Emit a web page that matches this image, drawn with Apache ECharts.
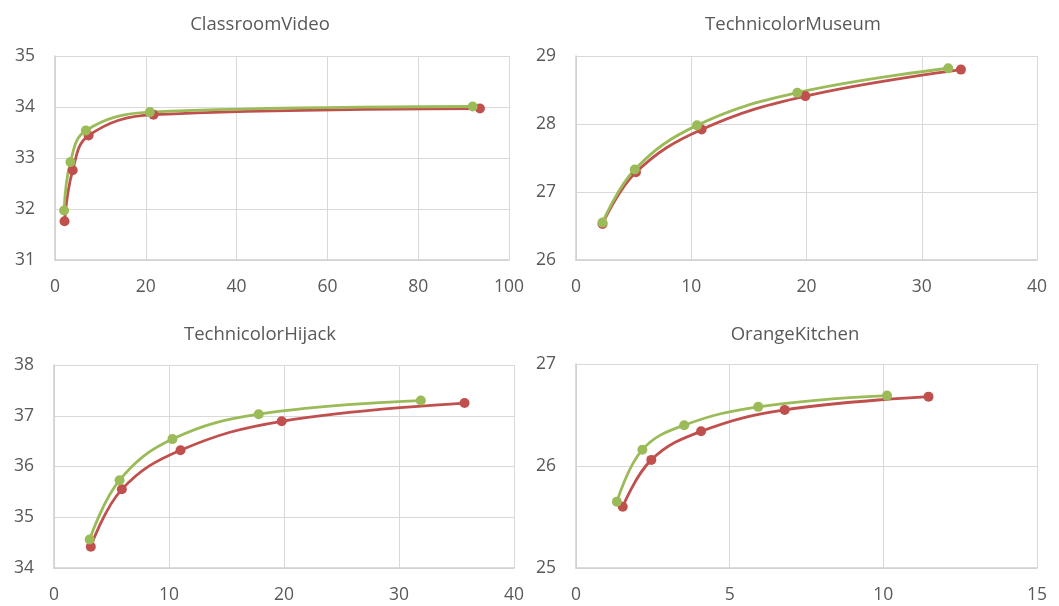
<!DOCTYPE html>
<html>
<head>
<meta charset="utf-8">
<script src="https://cdn.jsdelivr.net/npm/echarts@6/dist/echarts.min.js"></script>
<style>
html,body{margin:0;padding:0;background:#fff;}
#c{width:1059px;height:606px;}
</style>
</head>
<body>
<div id="c"></div>
<script>
// ---- data ----
const titles = ['ClassroomVideo', 'TechnicolorMuseum', 'TechnicolorHijack', 'OrangeKitchen'];

const classroomRedX = [2.1, 3.9, 7.4, 21.7, 93.6];
const classroomRedY = [31.76, 32.76, 33.44, 33.85, 33.97];
const classroomGreenX = [2.0, 3.4, 6.8, 20.9, 92.0];
const classroomGreenY = [31.97, 32.92, 33.54, 33.90, 34.01];

const museumRedX = [2.3, 5.2, 10.9, 19.9, 33.4];
const museumRedY = [26.53, 27.29, 27.92, 28.41, 28.80];
const museumGreenX = [2.3, 5.1, 10.5, 19.2, 32.3];
const museumGreenY = [26.55, 27.33, 27.98, 28.46, 28.82];

const hijackRedX = [3.2, 5.9, 11.0, 19.8, 35.7];
const hijackRedY = [34.42, 35.55, 36.32, 36.89, 37.25];
const hijackGreenX = [3.1, 5.7, 10.3, 17.8, 31.9];
const hijackGreenY = [34.56, 35.73, 36.54, 37.03, 37.30];

const kitchenRedX = [1.52, 2.45, 4.07, 6.79, 11.47];
const kitchenRedY = [25.60, 26.06, 26.34, 26.55, 26.68];
const kitchenGreenX = [1.33, 2.16, 3.52, 5.93, 10.12];
const kitchenGreenY = [25.65, 26.16, 26.40, 26.58, 26.69];

const xMin = [0, 0, 0, 0];
const xMax = [100, 40, 40, 15];
const xInterval = [20, 10, 10, 5];
const yMin = [31, 26, 34, 25];
const yMax = [35, 29, 38, 27];
const yInterval = [1, 1, 1, 1];

const redSets = [[classroomRedX, classroomRedY], [museumRedX, museumRedY], [hijackRedX, hijackRedY], [kitchenRedX, kitchenRedY]];
const greenSets = [[classroomGreenX, classroomGreenY], [museumGreenX, museumGreenY], [hijackGreenX, hijackGreenY], [kitchenGreenX, kitchenGreenY]];

// ---- layout ----
const grids = [
  {left: 55, top: 56, width: 454, height: 204},
  {left: 576, top: 56, width: 461, height: 204},
  {left: 54, top: 365, width: 460, height: 203},
  {left: 576, top: 364, width: 461, height: 204}
];
const titlePos = [[255, 20], [788, 20], [255, 330], [790, 330]];

const RED = '#C0504D', GREEN = '#9BBB59', TXT = '#595959', GRID = '#D9D9D9';
const FONT = 'Open Sans';

function pairs(xs, ys) { return xs.map((x, i) => [x, ys[i]]); }

const option = {
  backgroundColor: '#fff',
  animation: false,
  title: titles.map((t, i) => ({
    text: t, left: titlePos[i][0], top: titlePos[i][1], textAlign: 'center', textVerticalAlign: 'middle',
    textStyle: {fontFamily: FONT, fontSize: 18.5, fontWeight: 'normal', color: TXT}
  })),
  grid: grids.map(g => Object.assign({containLabel: false}, g)),
  xAxis: grids.map((g, i) => ({
    type: 'value', gridIndex: i, min: xMin[i], max: xMax[i], interval: xInterval[i],
    axisLine: {show: true, lineStyle: {color: '#CFCFCF', width: 1.5}},
    axisTick: {show: false},
    axisLabel: {color: TXT, fontFamily: FONT, fontSize: 17.5, margin: 18},
    splitLine: {show: true, lineStyle: {color: GRID, width: 1}}
  })),
  yAxis: grids.map((g, i) => ({
    type: 'value', gridIndex: i, min: yMin[i], max: yMax[i], interval: yInterval[i],
    axisLine: {show: true, lineStyle: {color: '#CFCFCF', width: 1.5}},
    axisTick: {show: false},
    axisLabel: {color: TXT, fontFamily: FONT, fontSize: 17.5, margin: 20},
    splitLine: {show: true, lineStyle: {color: GRID, width: 1}}
  })),
  series: []
};

for (let i = 0; i < 4; i++) {
  option.series.push({
    type: 'line', xAxisIndex: i, yAxisIndex: i,
    data: pairs(redSets[i][0], redSets[i][1]),
    smooth: 0.4, symbol: 'circle', symbolSize: 10,
    lineStyle: {color: RED, width: 2.8}, itemStyle: {color: RED}
  });
  option.series.push({
    type: 'line', xAxisIndex: i, yAxisIndex: i,
    data: pairs(greenSets[i][0], greenSets[i][1]),
    smooth: 0.4, symbol: 'circle', symbolSize: 10,
    lineStyle: {color: GREEN, width: 2.8}, itemStyle: {color: GREEN}
  });
}

const chart = echarts.init(document.getElementById('c'), null, {renderer: 'canvas'});
chart.setOption(option);
</script>
</body>
</html>
